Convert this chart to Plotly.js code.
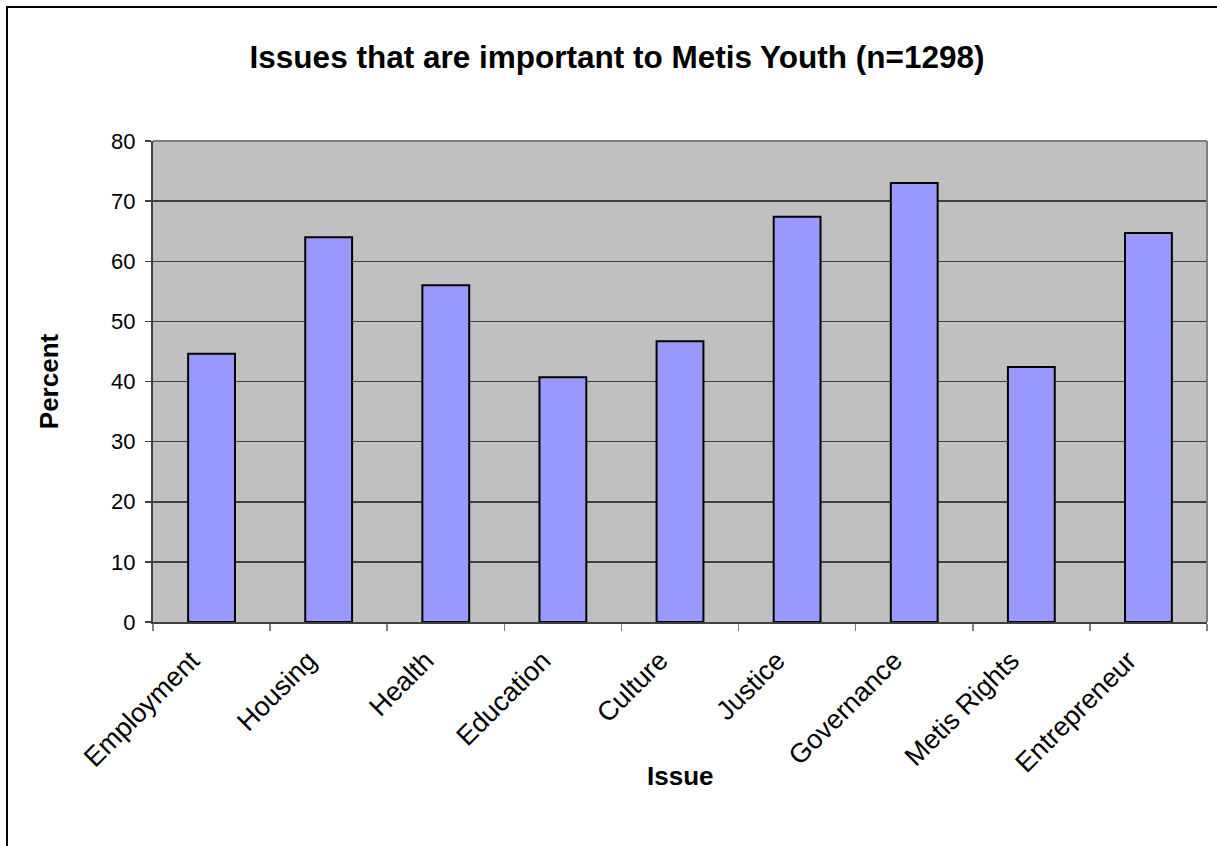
<!DOCTYPE html>
<html>
<head>
<meta charset="utf-8">
<script src="https://cdn.plot.ly/plotly-3.0.1.min.js"></script>
<style>
  html, body { margin: 0; padding: 0; background: #ffffff; overflow: hidden; }
  #chart { position: absolute; left: 0; top: 0; width: 1217px; height: 846px; }
  #frame { position: absolute; left: 6px; top: 6px; width: 1400px; height: 1000px;
           border: 2px solid #000; pointer-events: none; box-sizing: border-box; }
</style>
</head>
<body>
<div id="chart"></div>
<div id="frame"></div>
<script>
const issues = ["Employment", "Housing", "Health", "Education", "Culture",
                "Justice", "Governance", "Metis Rights", "Entrepreneur"];
const percents = [44.6, 64.0, 56.0, 40.7, 46.7, 67.4, 73.0, 42.4, 64.7];
const yTicks = [0, 10, 20, 30, 40, 50, 60, 70, 80];

const fontFam = "Liberation Sans, Arial, sans-serif";

const trace = {
  type: "bar",
  x: issues,
  y: percents,
  marker: { color: "#9999FF", line: { color: "#000000", width: 2 } },
  hoverinfo: "x+y"
};

const layout = {
  width: 1217,
  height: 846,
  paper_bgcolor: "#ffffff",
  plot_bgcolor: "#C0C0C0",
  margin: { l: 153, r: 10, t: 141, b: 224, pad: 0 },
  bargap: 0.6,
  showlegend: false,
  title: {
    text: "<b>Issues that are important to Metis Youth (n=1298)</b>",
    font: { family: fontFam, size: 31.5, color: "#000" },
    x: 0.507, xref: "container", xanchor: "center",
    y: 0.933, yref: "container", yanchor: "middle"
  },
  xaxis: {
    type: "category",
    tickson: "boundaries",
    ticks: "outside",
    ticklen: 7,
    tickwidth: 1.5,
    tickcolor: "#808080",
    showgrid: false,
    showline: true,
    linecolor: "#404040",
    linewidth: 2,
    tickangle: -45,
    ticklabelshift: -20,
    ticklabelstandoff: 10,
    tickfont: { family: fontFam, size: 27, color: "#000" },
    automargin: false,
    fixedrange: true
  },
  yaxis: {
    range: [0, 80],
    tickvals: yTicks,
    ticktext: yTicks.map(String),
    ticks: "outside",
    ticklen: 6,
    tickwidth: 1.5,
    tickcolor: "#404040",
    showgrid: true,
    gridcolor: "#404040",
    gridwidth: 1.5,
    zeroline: false,
    showline: true,
    linecolor: "#404040",
    linewidth: 2,
    ticklabelstandoff: 5,
    tickfont: { family: fontFam, size: 22, color: "#000" },
    title: { text: "<b>Percent</b>", font: { family: fontFam, size: 26, color: "#000" }, standoff: 45 },
    automargin: false,
    fixedrange: true
  },
  annotations: [
    { text: "<b>Issue</b>", xref: "paper", yref: "paper", x: 0.5, y: -0.32,
      xanchor: "center", yanchor: "middle", showarrow: false,
      font: { family: fontFam, size: 26, color: "#000" } }
  ],
  shapes: [
    { type: "line", xref: "paper", yref: "paper", x0: 0, x1: 1, y0: 1, y1: 1,
      line: { color: "#808080", width: 2 }, layer: "above" },
    { type: "line", xref: "paper", yref: "paper", x0: 1, x1: 1, y0: 0, y1: 1,
      line: { color: "#808080", width: 2 }, layer: "above" }
  ]
};

Plotly.newPlot("chart", [trace], layout, { displayModeBar: false, staticPlot: true });
</script>
</body>
</html>
